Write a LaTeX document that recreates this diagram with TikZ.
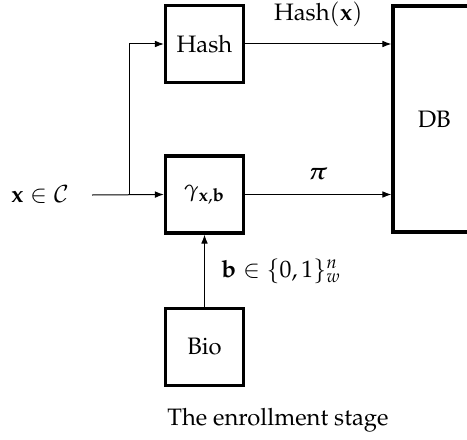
\documentclass[tikz,border=0pt]{standalone}
\usepackage[T1]{fontenc}
\usepackage{amsmath, amssymb}
\usepackage{mathpazo}
\usetikzlibrary{arrows.meta, positioning, calc}

\begin{document}
\begin{tikzpicture}[
  x=0.45pt, y=-0.45pt, font=\fontsize{10.7pt}{13pt}\selectfont,
  blk/.style={draw, line width=1.6pt, minimum width=35pt, minimum height=34.5pt, inner sep=0pt},
  arr/.style={-{Latex[length=4pt, width=3pt]}, line width=0.45pt}
]
  \useasboundingbox (0,0) rectangle (467,439);

  \node[blk] (hash) at (204.5,44) {Hash};
  \node[blk] (gamma) at (204.5,194.5) {$\gamma_{\mathbf{x},\mathbf{b}}$};
  \node[blk] (bio) at (204.5,347) {Bio};
  \node[blk, minimum width=44pt, minimum height=101.5pt] (db) at (442,119) {\hspace*{-7pt}DB};

  \node (xin) at (40,195) {$\mathbf{x}\in\mathcal{C}$};
  \coordinate (start) at (92,195);
  \coordinate (split) at (129,195);

  \draw[arr] (start) -- (gamma.west);
  \draw[arr] (split) |- (hash.west);
  \draw[arr] (hash.east) -- node[above=4pt] {Hash$(\mathbf{x})$} (hash.east -| db.west);
  \draw[arr] (gamma.east) -- node[above=3pt] {$\boldsymbol{\pi}$} (gamma.east -| db.west);
  \draw[arr] (bio.north) -- node[right=4pt] {$\mathbf{b}\in\{0,1\}^n_w$} (gamma.south);

  \node (caption) at (278,420) {The enrollment stage};
\end{tikzpicture}
\end{document}
